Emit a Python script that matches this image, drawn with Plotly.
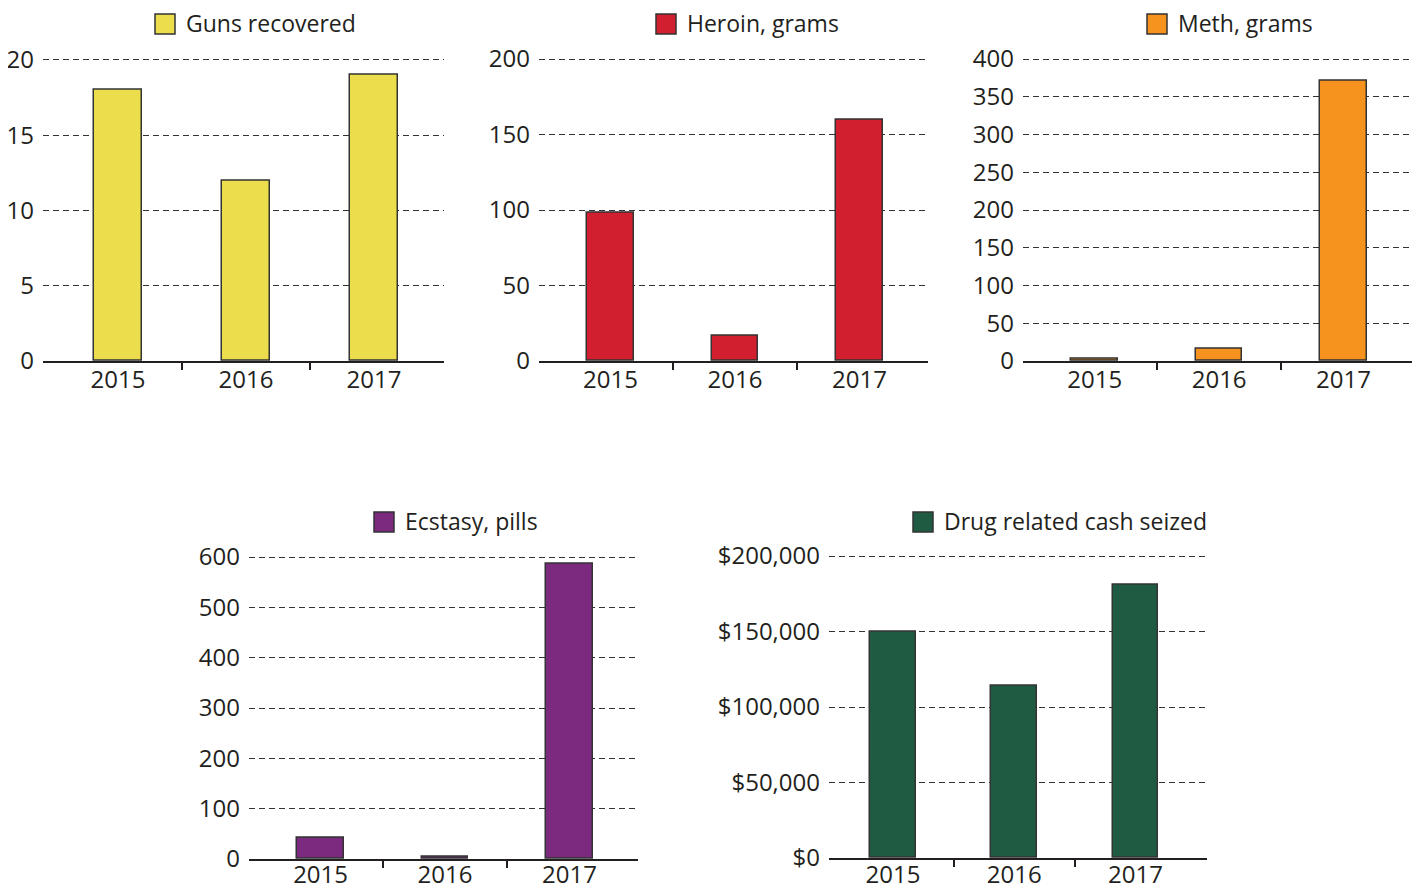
import plotly.graph_objects as go

years = ["2015", "2016", "2017"]
guns = [18, 12, 19]
heroin = [98, 17, 160]
meth = [3, 16, 371]
ecstasy = [42, 4, 587]
cash = [150000, 114000, 181000]

# the page body has an 8px margin, so the figure is shifted by that much
OFF = 8
W, H = 1428 - OFF, 891 - OFF
INK = "#231f20"
FONT = "Open Sans"


def px(x):
    return (x - OFF) / W


def py(y):
    return 1 - (y - OFF) / H


# name, values, colour, ymax, dtick, prefix, x px span, y px span, x range, key square left/top, label standoff
panels = [
    ("Guns recovered", guns, "#ebdd4c", 20, 5, "", (43, 444), (60, 361), (-0.586, 2.547), (155, 14), -4),
    ("Heroin, grams", heroin, "#d11f2f", 200, 50, "", (539, 928), (59, 361), (-0.574, 2.55), (656, 14), -4),
    ("Meth, grams", meth, "#f6921e", 400, 50, "", (1023, 1412), (59, 361), (-0.576, 2.55), (1147, 14), -4),
    ("Ecstasy, pills", ecstasy, "#7b2a7f", 600, 100, "", (249, 638), (557, 859), (-0.575, 2.55), (374, 512), -7),
    ("Drug related cash seized", cash, "#1f5b42", 200000, 50000, "$", (829, 1207), (556, 858), (-0.527, 2.59), (913, 512), -6),
]

fig = go.Figure()
layout = {}
shapes = []
annotations = []
for i, (name, vals, color, ymax, step, prefix, xs, ys, xr, key, stand) in enumerate(panels, start=1):
    sfx = "" if i == 1 else str(i)
    fig.add_trace(go.Bar(
        x=[0, 1, 2], y=vals, name=name, width=0.375,
        marker=dict(color=color, line=dict(color="#333333", width=1.5)),
        xaxis="x" + sfx, yaxis="y" + sfx, showlegend=False,
    ))
    layout["xaxis" + sfx] = dict(
        domain=[px(xs[0]), px(xs[1])], anchor="y" + sfx, range=list(xr),
        tickvals=[0, 1, 2], ticktext=years, ticks="", showgrid=False, zeroline=False,
        showline=True, linecolor=INK, linewidth=1.5, automargin=False,
        tickfont=dict(family=FONT, size=24, color=INK), ticklabelstandoff=stand,
        minor=dict(tickvals=[0.5, 1.5], ticks="outside", ticklen=7, tickwidth=1.5, tickcolor=INK, showgrid=False),
        fixedrange=True,
    )
    # stretch the range a hair so the top grid line is still drawn
    pad = 0.004
    top = ys[0] - (ys[1] - ys[0]) * pad
    layout["yaxis" + sfx] = dict(
        domain=[py(ys[1]), py(top)], anchor="x" + sfx, range=[0, ymax * (1 + pad)],
        tick0=0, dtick=step, tickprefix=prefix, tickformat=",",
        showline=False, zeroline=False, automargin=False,
        showgrid=True, gridcolor="#333333", gridwidth=1, griddash="6px,4px",
        ticks="", ticklabelstandoff=8,
        tickfont=dict(family=FONT, size=24, color=INK), fixedrange=True,
    )
    # key square and label above each panel
    kx, ky = key
    shapes.append(dict(
        type="rect", xref="paper", yref="paper",
        x0=px(kx), x1=px(kx + 20), y0=py(ky + 20), y1=py(ky),
        fillcolor=color, line=dict(color="#333333", width=1.5),
    ))
    annotations.append(dict(
        text=name, xref="paper", yref="paper", x=px(kx + 29), y=py(ky + 9),
        xanchor="left", yanchor="middle", showarrow=False,
        font=dict(family=FONT, size=23, color=INK),
    ))

fig.update_layout(
    width=W, height=H, margin=dict(l=0, r=0, t=0, b=0),
    paper_bgcolor="white", plot_bgcolor="white",
    bargap=0, showlegend=False, shapes=shapes, annotations=annotations,
    **layout,
)

fig.write_html("out.html")
